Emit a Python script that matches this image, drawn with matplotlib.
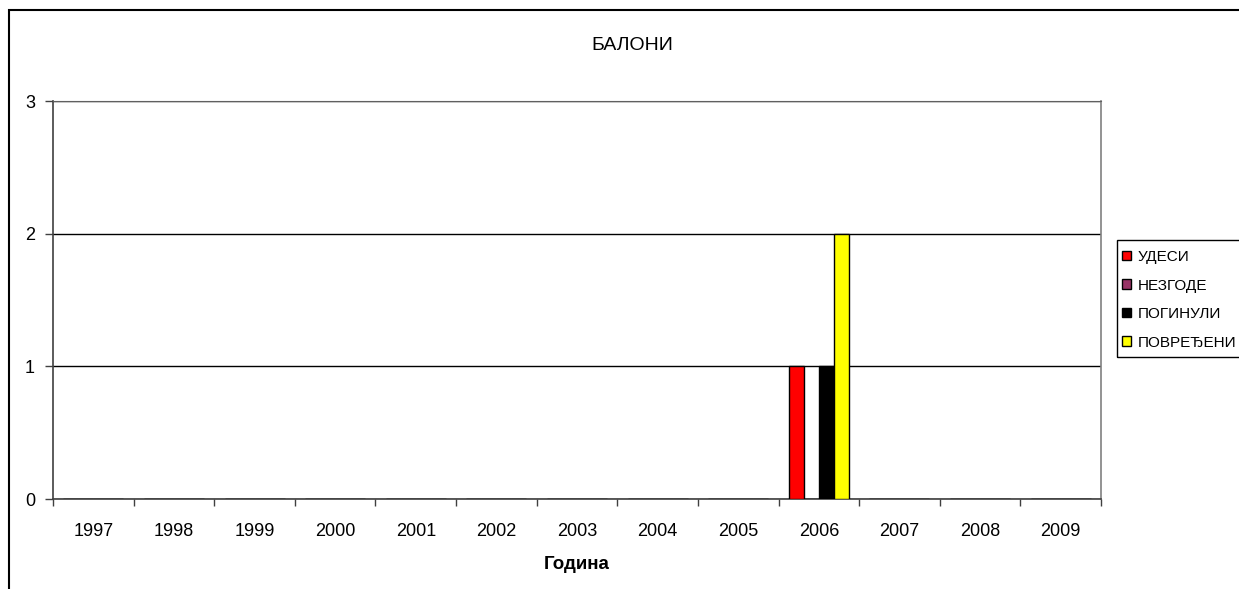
import numpy as np
import matplotlib
matplotlib.use("Agg")
from matplotlib import pyplot as plt
from matplotlib.patches import Rectangle

plt.rcParams['font.family'] = ['Liberation Sans', 'DejaVu Sans']

years = ['1997', '1998', '1999', '2000', '2001', '2002', '2003',
         '2004', '2005', '2006', '2007', '2008', '2009']
series_names = ['УДЕСИ', 'НЕЗГОДЕ', 'ПОГИНУЛИ', 'ПОВРЕЂЕНИ']
udesi = [0, 0, 0, 0, 0, 0, 0, 0, 0, 1, 0, 0, 0]
nezgode = [0, 0, 0, 0, 0, 0, 0, 0, 0, 0, 0, 0, 0]
poginuli = [0, 0, 0, 0, 0, 0, 0, 0, 0, 1, 0, 0, 0]
povredjeni = [0, 0, 0, 0, 0, 0, 0, 0, 0, 2, 0, 0, 0]
colors = ['#FF0000', '#993366', '#000000', '#FFFF00']

W, H = 1239, 589
fig = plt.figure(figsize=(W / 100, H / 100), dpi=100)
ax = fig.add_axes([53 / W, (H - 499) / H, 1048 / W, 398 / H])

x = np.arange(len(years))
bw = 0.186
for i, (vals, col) in enumerate(zip([udesi, nezgode, poginuli, povredjeni], colors)):
    ax.bar(x + (i - 1.5) * bw, vals, bw, color=col, edgecolor='black',
           linewidth=1, zorder=3)

ax.set_xlim(-0.5, len(years) - 0.5)
ax.set_ylim(0, 3)
ax.set_yticks([0, 1, 2, 3])
ax.yaxis.grid(True, color='black', linewidth=1, zorder=0)

# boundary ticks between categories, labels at the centres
ax.set_xticks(np.arange(len(years) + 1) - 0.5)
ax.set_xticklabels([])
ax.set_xticks(x, minor=True)
ax.set_xticklabels(years, minor=True)
ax.tick_params(axis='x', which='major', direction='out', length=5,
               width=1, color='#404040')
ax.tick_params(axis='x', which='minor', length=0, pad=17, labelsize=13)
ax.tick_params(axis='y', direction='out', length=6, width=1,
               color='#404040', pad=7, labelsize=13)

for s in ['left', 'bottom']:
    ax.spines[s].set_color('#404040')
    ax.spines[s].set_linewidth(1.2)
ax.spines['right'].set_color('#808080')
ax.spines['right'].set_linewidth(1.2)
ax.spines['top'].set_color('#606060')

ax.set_xlabel('Година', fontsize=13.5, fontweight='bold', labelpad=12)
fig.text(632 / W, 1 - 45 / H, 'БАЛОНИ', fontsize=14, ha='center', va='center')

# outer chart frame
fig.add_artist(Rectangle((9 / W, -0.1), 2.0, (H - 10) / H + 0.1,
                         transform=fig.transFigure, fill=False,
                         edgecolor='black', linewidth=1.5))

# legend box
fig.add_artist(Rectangle((1117 / W, 1 - 357 / H), 0.2, 117 / H,
                         transform=fig.transFigure, fill=False,
                         edgecolor='black', linewidth=1))
handles = [Rectangle((0, 0), 1, 1, facecolor=c, edgecolor='black', linewidth=1)
           for c in colors]
fig.legend(handles, series_names, loc='upper left',
           bbox_to_anchor=(1122 / W, 1 - 250 / H), frameon=False,
           fontsize=11, handlelength=0.6, handleheight=0.6,
           handletextpad=0.4, labelspacing=0.95, borderpad=0,
           borderaxespad=0)

fig.savefig('out.png', dpi=100)
